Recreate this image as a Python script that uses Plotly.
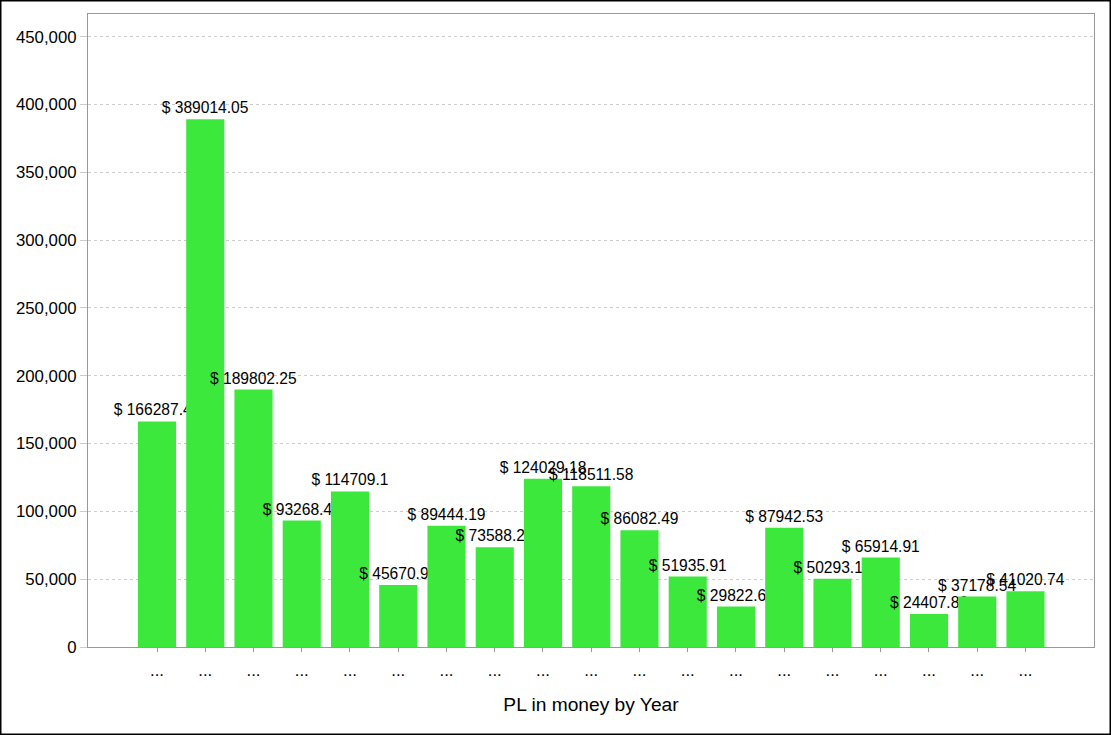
import plotly.graph_objects as go

categories = ["..."] * 19
values = [166287.43, 389014.05, 189802.25, 93268.42, 114709.1, 45670.93, 89444.19,
          73588.24, 124029.18, 118511.58, 86082.49, 51935.91, 29822.64, 87942.53,
          50293.17, 65914.91, 24407.86, 37178.54, 41020.74]
labels = ["$ " + ("%.2f" % v).rstrip("0").rstrip(".") for v in values]
y_ticks = [0, 50000, 100000, 150000, 200000, 250000, 300000, 350000, 400000, 450000]

W, H = 1111, 735
ml, mr, mt, mb = 88, 17, 14, 88
pw, ph = W - ml - mr, H - mt - mb

xs = list(range(len(values)))

fig = go.Figure(go.Bar(
    x=xs, y=values, text=labels, textposition="outside",
    constraintext="none", cliponaxis=False,
    textfont=dict(family="Liberation Sans, Arial", size=15.6, color="#000"),
    marker=dict(color="#3de83d", line=dict(width=0)),
    hoverinfo="skip",
))

fig.update_layout(
    width=W, height=H,
    margin=dict(l=ml, r=mr, t=mt, b=mb),
    paper_bgcolor="white", plot_bgcolor="white",
    bargap=0.21, showlegend=False,
    font=dict(family="Liberation Sans, Arial", color="#000"),
    shapes=[dict(type="rect", xref="paper", yref="paper",
                 x0=-(ml - 0.75) / pw, x1=1 + (mr - 0.75) / pw,
                 y0=-(mb - 0.75) / ph, y1=1 + (mt - 0.75) / ph,
                 line=dict(color="black", width=1.5), layer="above")],
)
fig.update_xaxes(
    range=[-1.43, 18 + 1.42], tickvals=xs, ticktext=categories,
    showgrid=False, showline=True, linecolor="#999", linewidth=1, mirror=True,
    ticks="outside", ticklen=4, tickcolor="#999",
    tickfont=dict(size=16.8), ticklabelstandoff=4,
    title=dict(text="PL in money by Year", font=dict(size=19.2), standoff=18),
)
fig.update_yaxes(
    range=[0, 466700], tickvals=y_ticks, tickformat=",",
    showgrid=True, gridcolor="#cccccc", griddash="3px,3px", gridwidth=1,
    showline=True, linecolor="#999", linewidth=1, mirror=True,
    ticks="outside", ticklen=7, tickcolor="#ccc",
    tickfont=dict(size=16.8), zeroline=False,
)

fig.write_html("out.html", config={"displayModeBar": False},
               post_script="document.body.style.margin='0';document.body.style.overflow='hidden';")
